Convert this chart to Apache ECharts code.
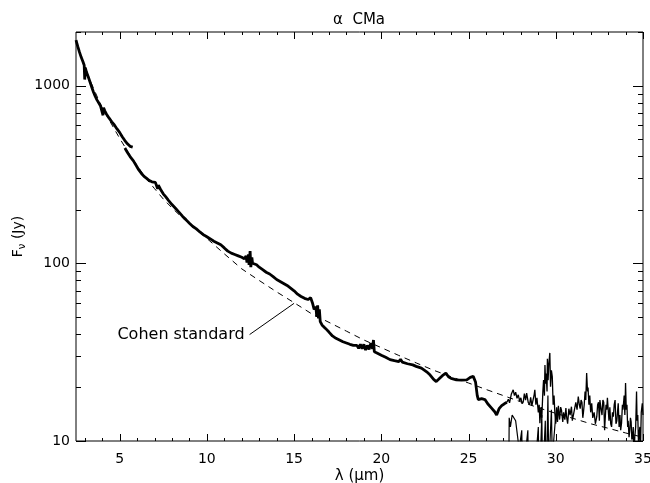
<!DOCTYPE html>
<html>
<head>
<meta charset="utf-8">
<script src="https://cdn.jsdelivr.net/npm/echarts@6/dist/echarts.min.js"></script>
<style>html,body{margin:0;padding:0;background:#fff;}#c{width:650px;height:483px;}</style>
</head>
<body>
<div id="c"></div>
<script>
// ---- data (λ in µm, Fν in Jy) ----
const titleText = 'α  CMa';
const xTickLabels = [5, 10, 15, 20, 25, 30, 35];
const yTickLabels = [10, 100, 1000];
const xMajorTicks = [5, 10, 15, 20, 25, 30, 35];
const xMinorTicks = [3, 4, 6, 7, 8, 9, 11, 12, 13, 14, 16, 17, 18, 19, 21, 22, 23, 24, 26, 27, 28, 29, 31, 32, 33, 34];
const yMajorTicks = [10, 100, 1000];
const yMinorTicks = [20, 30, 40, 50, 60, 70, 80, 90, 200, 300, 400, 500, 600, 700, 800, 900, 2000];
const xRange = [2.5, 35];
const yRange = [10, 2000];

// short-wavelength segment
const specA = [[2.50,1800],[2.60,1660],[2.70,1540],[2.80,1440],[2.90,1360],[2.97,1300],[3.00,1080],[3.03,1260],[3.10,1190],[3.20,1120],[3.30,1050],[3.40,980],[3.50,920],[3.60,870],[3.70,830],[3.80,800],[3.90,770],[3.95,760],[4.00,780],[4.05,680],[4.08,750],[4.15,720],[4.25,690],[4.40,655],[4.55,625],[4.70,600],[4.85,570],[5.00,545],[5.15,515],[5.30,490],[5.45,470],[5.60,455],[5.75,450]];
// main segment
const specB = [[5.30,445],[5.45,420],[5.60,398],[5.78,378],[5.95,355],[6.10,335],[6.25,320],[6.40,308],[6.55,300],[6.70,292],[6.85,287],[6.95,288],[7.05,285],[7.12,280],[7.18,262],[7.22,275],[7.35,260],[7.50,246],[7.65,236],[7.80,226],[8.00,214],[8.20,204],[8.40,194],[8.60,184],[8.80,176],[9.00,168],[9.20,161],[9.40,156],[9.60,150],[9.80,145],[10.00,141],[10.20,137],[10.40,133],[10.60,130],[10.80,127],[11.00,122],[11.20,117],[11.40,114],[11.60,112],[11.80,110],[12.00,108],[12.15,106],[12.25,110],[12.30,101],[12.38,112],[12.42,98],[12.48,117],[12.52,95],[12.58,108],[12.62,100],[12.70,101],[12.85,98],[13.00,95],[13.20,92],[13.40,89],[13.60,87],[13.80,84],[14.00,81],[14.20,79],[14.40,77],[14.60,75],[14.80,72.5],[15.00,70],[15.20,67],[15.40,65],[15.60,63.5],[15.80,62.5],[15.95,64],[16.05,60],[16.15,55],[16.25,57],[16.30,50],[16.35,58],[16.40,49],[16.45,55],[16.50,47],[16.60,45],[16.80,43],[17.00,41],[17.20,39],[17.40,37.8],[17.60,37],[17.80,36.2],[18.00,35.6],[18.20,35],[18.40,34.5],[18.60,34.5],[18.70,33.2],[18.80,35],[18.90,33],[19.00,35],[19.10,32.5],[19.20,34.5],[19.30,32.8],[19.40,35.5],[19.50,33],[19.55,37],[19.60,31.8],[19.75,31.3],[20.00,30.4],[20.25,29.6],[20.50,28.7],[20.75,28.3],[21.00,28.0],[21.10,28.8],[21.20,27.8],[21.50,27.2],[21.80,26.8],[22.00,26.3],[22.30,25.7],[22.60,24.5],[22.80,23.5],[23.00,22.2],[23.15,21.6],[23.30,22.3],[23.50,23.3],[23.70,24.1],[23.85,23.0],[24.00,22.5],[24.30,22.1],[24.60,22.0],[24.90,22.1],[25.10,22.8],[25.27,23.1],[25.40,21.5],[25.50,18],[25.56,17.1],[25.75,17.3],[25.94,17.1],[26.10,16.2],[26.32,15.3],[26.50,14.6],[26.61,14.0],[26.75,15.2],[26.90,15.8],[27.05,16.2],[27.20,16.5]];
// noisy long-wavelength segment
const specC = [[27.20,16.5],[27.28,17.2],[27.35,16.4],[27.45,18.3],[27.56,19.4],[27.63,18.0],[27.70,18.8],[27.78,17.4],[27.85,18.2],[27.93,16.8],[28.00,17.5],[28.07,16.2],[28.14,16.7],[28.20,18.5],[28.27,17.0],[28.33,18.6],[28.42,16.5],[28.50,16.0],[28.56,17.6],[28.63,15.8],[28.71,15.6],[28.76,18.2],[28.80,19.4],[28.86,16.0],[28.92,17.5],[29.00,14.5],[29.05,16],[29.09,12.6],[29.15,15.5],[29.20,13.5],[29.26,19],[29.30,22],[29.35,18],[29.38,26.8],[29.42,21],[29.45,24],[29.50,19],[29.52,29],[29.56,22],[29.60,27],[29.66,31.3],[29.70,20.2],[29.75,25],[29.80,23],[29.85,16],[29.90,18],[29.95,14.3],[30.00,12.5],[30.05,15.5],[30.10,12.8],[30.15,15.8],[30.22,13.2],[30.28,15.5],[30.33,14.9],[30.40,12.8],[30.45,14.5],[30.52,13.2],[30.58,15.3],[30.62,13.7],[30.68,12.5],[30.75,15.2],[30.82,14],[30.90,15.6],[30.95,13],[31.00,13.8],[31.07,15],[31.15,16.5],[31.22,15],[31.29,17.8],[31.35,16],[31.40,15.2],[31.45,17],[31.50,16.5],[31.55,13.5],[31.58,14.3],[31.63,16],[31.68,19],[31.72,17],[31.77,24.1],[31.82,19],[31.85,20],[31.90,16],[31.95,18],[32.00,14.5],[32.06,16.3],[32.12,13.5],[32.20,14.5],[32.27,12.5],[32.35,13.7],[32.40,16],[32.45,16.5],[32.50,13],[32.53,17.0],[32.60,15],[32.65,14],[32.70,17],[32.75,16.5],[32.80,11.5],[32.82,12.6],[32.88,16],[32.92,15],[32.96,17.5],[33.00,17.8],[33.05,13],[33.10,15.5],[33.15,12.5],[33.20,12],[33.25,14.5],[33.30,13.7],[33.35,16],[33.40,17],[33.45,12.5],[33.50,13],[33.55,15],[33.58,16.3],[33.63,12],[33.68,14],[33.72,11.5],[33.77,12.6],[33.82,16],[33.85,15],[33.90,17],[33.92,18],[33.96,14],[34.00,21.2],[34.04,15],[34.08,16],[34.12,12],[34.15,13],[34.20,10.5],[34.24,11.5],[34.28,13.5],[34.32,12.8],[34.36,10.2],[34.40,10.5],[34.44,12],[34.48,8],[34.53,10.6],[34.58,12],[34.63,19],[34.66,13],[34.70,14],[34.75,9],[34.78,11],[34.82,12.0],[34.86,9.5],[34.90,14.5],[34.96,16.3],[35.00,14]];
// second noisy trace dipping below the frame
const specLow = [[27.30,5],[27.33,13.5],[27.40,12],[27.50,14],[27.70,13],[27.90,9],[28.05,11.5],[28.10,6],[28.40,11.5],[28.45,5],[28.90,9],[29.00,12],[29.05,5],[29.20,14],[29.25,6],[29.40,13],[29.45,5],[29.55,18],[29.60,7],[29.75,15],[29.80,8],[30.00,14]];
// Cohen standard model
const cohen = [[2.5,1780],[3,1270],[3.5,965],[4,750],[4.5,615],[5,505],[5.5,420],[6,355],[6.5,302],[7,263],[7.5,230],[8,205],[8.5,184],[9,166],[9.5,151],[10,138],[11,113],[12,93],[13,80],[14,69],[15,60],[16,52],[17,46.5],[18,41.5],[19,37],[20,33.5],[21,30.3],[22,27.5],[23,25],[24,23],[25,21.2],[26,19.5],[27,18],[28,16.6],[29,15.4],[30,14.3],[31,13.4],[32,12.5],[33,11.8],[34,11.1],[35,10.5]];
const cohenLabel = 'Cohen standard';
const cohenPointer = [[12.45, 39.7], [15.0, 59.5]];

const FONT = 'DejaVu Sans';
const chart = echarts.init(document.getElementById('c'), null, {renderer: 'canvas'});

function tickSeries(values, axis, len) {
  return {
    type: 'custom', coordinateSystem: 'cartesian2d', silent: true, clip: false, z: 5,
    data: values.map(v => axis === 'x' ? [v, yRange[0]] : [xRange[0], v]),
    renderItem: function (params, api) {
      const style = {stroke: '#000', lineWidth: 1};
      if (axis === 'x') {
        const v = api.value(0);
        const pB = api.coord([v, yRange[0]]);
        const pT = api.coord([v, yRange[1]]);
        const x = Math.round(pB[0]) + 0.5;
        return {type: 'group', children: [
          {type: 'line', shape: {x1: x, y1: pB[1], x2: x, y2: pB[1] - len}, style: style},
          {type: 'line', shape: {x1: x, y1: pT[1], x2: x, y2: pT[1] + len}, style: style}
        ]};
      } else {
        const v = api.value(1);
        const pL = api.coord([xRange[0], v]);
        const pR = api.coord([xRange[1], v]);
        const y = Math.round(pL[1]) + 0.5;
        return {type: 'group', children: [
          {type: 'line', shape: {x1: pL[0], y1: y, x2: pL[0] + len, y2: y}, style: style},
          {type: 'line', shape: {x1: pR[0], y1: y, x2: pR[0] - len, y2: y}, style: style}
        ]};
      }
    }
  };
}

const option = {
  animation: false,
  backgroundColor: '#fff',
  graphic: [{
    type: 'text', x: 359, y: 20,
    style: {text: titleText, font: '15px "' + FONT + '"', fill: '#000', textAlign: 'center', textVerticalAlign: 'middle'}
  }],
  grid: {left: 76, top: 32, right: 7, bottom: 42, show: true, borderColor: '#000', borderWidth: 1, backgroundColor: 'transparent', outerBoundsMode: 'none', containLabel: false},
  xAxis: {
    type: 'value', min: xRange[0], max: xRange[1],
    axisLine: {show: false}, axisTick: {show: false}, splitLine: {show: false},
    axisLabel: {customValues: xTickLabels, color: '#000', fontFamily: FONT, fontSize: 14, margin: 11},
    name: 'λ (μm)', nameLocation: 'middle', nameGap: 28, nameMoveOverlap: false,
    nameTextStyle: {color: '#000', fontFamily: FONT, fontSize: 15}
  },
  yAxis: {
    type: 'log', logBase: 10, min: yRange[0], max: yRange[1],
    axisLine: {show: false}, axisTick: {show: false}, splitLine: {show: false}, minorTick: {show: false},
    axisLabel: {color: '#000', fontFamily: FONT, fontSize: 14, margin: 6, showMaxLabel: false,
      formatter: function (v) { const r = Math.round(v); return yTickLabels.indexOf(r) >= 0 ? String(r) : ''; }},
    name: '{a|F}{b|ν}{a| (Jy)}', nameLocation: 'middle', nameGap: 49, nameMoveOverlap: false,
    nameTextStyle: {rich: {
      a: {color: '#000', fontFamily: FONT, fontSize: 14, lineHeight: 18},
      b: {color: '#000', fontFamily: FONT, fontSize: 10, lineHeight: 18, verticalAlign: 'bottom'}
    }}
  },
  series: [
    {type: 'line', data: cohen, showSymbol: false, symbol: 'none', z: 2,
      lineStyle: {color: '#000', width: 1, type: [6, 5]}},
    {type: 'line', data: specA, showSymbol: false, symbol: 'none', z: 3,
      lineStyle: {color: '#000', width: 2.8}},
    {type: 'line', data: specB, showSymbol: false, symbol: 'none', z: 3,
      lineStyle: {color: '#000', width: 2.8}},
    {type: 'line', data: specC, showSymbol: false, symbol: 'none', z: 3,
      lineStyle: {color: '#000', width: 1.3}},
    {type: 'line', data: specLow, showSymbol: false, symbol: 'none', z: 3,
      lineStyle: {color: '#000', width: 1.2}},
    {type: 'line', data: cohenPointer, showSymbol: false, symbol: 'none', z: 4,
      lineStyle: {color: '#000', width: 1},
      markPoint: {symbol: 'circle', symbolSize: 0, silent: true,
        data: [{coord: cohenPointer[0], label: {show: true, position: 'left', distance: 5, formatter: cohenLabel,
          color: '#000', fontFamily: FONT, fontSize: 16}}]}},
    tickSeries(xMajorTicks, 'x', 7),
    tickSeries(xMinorTicks, 'x', 3),
    tickSeries(yMajorTicks, 'y', 10),
    tickSeries(yMinorTicks, 'y', 5)
  ]
};
chart.setOption(option);
</script>
</body>
</html>
